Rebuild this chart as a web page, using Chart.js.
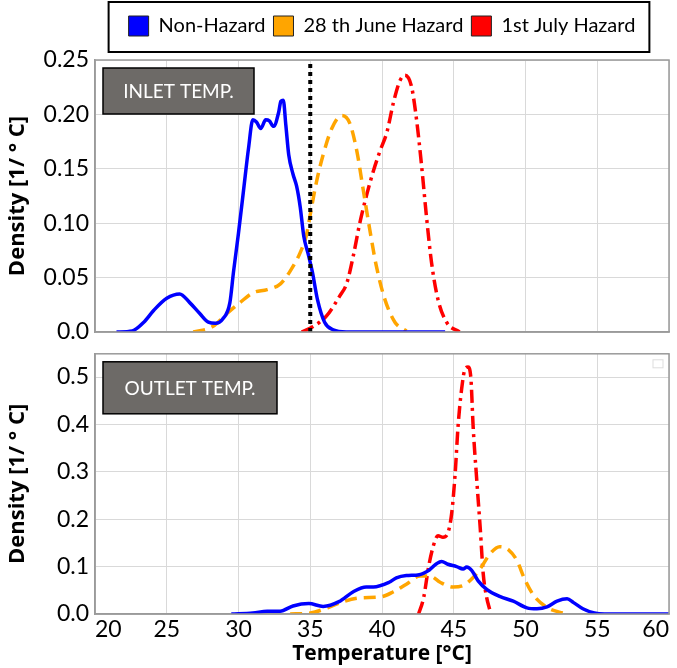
<!DOCTYPE html>
<html lang="en">
<head>
  <meta charset="UTF-8">
  <title>Inlet / Outlet Temperature Density</title>
  <script src="https://cdn.jsdelivr.net/npm/chart.js"></script>
  <style>
    body {
      margin: 0;
      background-color: #ffffff;
    }

    .wrap {
      position: relative;
      width: 677px;
      height: 668px;
    }

    .panel {
      position: absolute;
      left: 0;
      width: 677px;
    }

    #topPanel { top: 0; height: 352px; }
    #bottomPanel { top: 334px; height: 334px; }
  </style>
</head>
<body>

  <div class="wrap">
    <div class="panel" id="topPanel"><canvas id="inletChart"></canvas></div>
    <div class="panel" id="bottomPanel"><canvas id="outletChart"></canvas></div>
  </div>

  <script>
    const seriesNames = ["Non-Hazard", "28 th June Hazard", "1st July Hazard"];
    const seriesColors = ["#0000ff", "#ffa500", "#ff0000"];

    // inlet temperature densities
    const inletBlueT = [21.5, 22.6, 23.4, 24.1, 25.0, 25.9, 26.6, 27.3, 27.9, 28.4, 28.9, 29.4, 29.65, 30.0, 30.35, 30.7, 31.0, 31.25, 31.55, 31.9, 32.15, 32.45, 32.8, 32.95, 33.12, 33.3, 33.5, 33.8, 34.05, 34.3, 34.55, 34.85, 35.15, 35.5, 36.0, 36.6, 37.5, 44.4];
    const inletBlueD = [0, 0.001, 0.009, 0.020, 0.031, 0.035, 0.027, 0.017, 0.009, 0.008, 0.012, 0.027, 0.055, 0.091, 0.130, 0.169, 0.195, 0.193, 0.187, 0.195, 0.194, 0.189, 0.202, 0.212, 0.213, 0.190, 0.163, 0.145, 0.134, 0.115, 0.088, 0.072, 0.055, 0.030, 0.009, 0.002, 0, 0];

    const inletOrangeT = [26.85, 28.2, 29.2, 30.1, 31.0, 32.0, 32.9, 33.6, 34.3, 34.75, 35.0, 35.45, 35.9, 36.5, 37.2, 37.75, 38.25, 38.7, 39.15, 39.6, 40.2, 40.9, 41.7];
    const inletOrangeD = [0, 0.005, 0.017, 0.027, 0.036, 0.039, 0.044, 0.056, 0.073, 0.090, 0.108, 0.139, 0.163, 0.187, 0.199, 0.192, 0.166, 0.130, 0.094, 0.061, 0.030, 0.009, 0.001];

    const inletRedT = [34.4, 35.2, 36.15, 37.05, 37.55, 38.0, 38.45, 38.95, 39.4, 39.85, 40.35, 40.8, 41.25, 41.6, 42.05, 42.4, 42.75, 43.1, 43.45, 43.9, 44.5, 45.4];
    const inletRedD = [0, 0.005, 0.015, 0.033, 0.045, 0.070, 0.100, 0.127, 0.148, 0.166, 0.184, 0.211, 0.231, 0.236, 0.226, 0.196, 0.154, 0.106, 0.064, 0.030, 0.009, 0];

    // threshold marker on the inlet panel
    const thresholdT = [35, 35];
    const thresholdD = [0, 0.25];

    // outlet temperature densities
    const outletBlueT = [29.5, 31.0, 32.0, 32.9, 33.8, 34.9, 35.9, 37.0, 38.0, 38.9, 39.4, 40.5, 41.0, 41.7, 42.6, 43.3, 43.8, 44.15, 44.6, 45.2, 45.65, 45.9, 46.25, 46.7, 47.3, 48.2, 49.15, 50.1, 50.8, 51.5, 52.2, 52.9, 53.35, 54.0, 54.8, 55.5, 60];
    const outletBlueD = [0, 0.002, 0.006, 0.006, 0.017, 0.022, 0.016, 0.026, 0.047, 0.057, 0.057, 0.067, 0.076, 0.081, 0.083, 0.093, 0.106, 0.111, 0.105, 0.100, 0.095, 0.099, 0.092, 0.070, 0.052, 0.037, 0.027, 0.013, 0.011, 0.015, 0.027, 0.032, 0.024, 0.011, 0.002, 0, 0];

    const outletOrangeT = [33.6, 35.0, 36.2, 37.1, 38.5, 39.9, 40.8, 41.7, 42.65, 43.35, 44.05, 44.95, 45.65, 46.35, 46.95, 47.5, 48.2, 48.8, 49.4, 49.95, 50.55, 51.5, 52.7];
    const outletOrangeD = [0, 0.002, 0.013, 0.024, 0.034, 0.036, 0.047, 0.063, 0.080, 0.080, 0.067, 0.057, 0.060, 0.077, 0.100, 0.126, 0.142, 0.136, 0.113, 0.073, 0.040, 0.014, 0.001];

    const outletRedT = [42.55, 42.9, 43.25, 43.6, 43.9, 44.25, 44.6, 44.85, 45.1, 45.3, 45.55, 45.8, 46.0, 46.2, 46.35, 46.6, 46.85, 47.05, 47.3, 47.5];
    const outletRedD = [0, 0.034, 0.100, 0.146, 0.165, 0.162, 0.172, 0.211, 0.297, 0.396, 0.475, 0.518, 0.521, 0.495, 0.396, 0.284, 0.179, 0.086, 0.034, 0.010];

    const xTicks = [20, 25, 30, 35, 40, 45, 50, 55, 60];

    const FONT = 'Lato';
    const TITLE_FONT = 'Open Sans';
    const pts = (xs, ys) => xs.map((x, i) => ({ x: x, y: ys[i] }));

    const curve = (label, color, dash, data, order) => ({
      label: label,
      data: data,
      borderColor: color,
      backgroundColor: color,
      borderWidth: 3.5,
      borderDash: dash,
      pointRadius: 0,
      cubicInterpolationMode: 'monotone',
      fill: false,
      order: order
    });

    // frame around the plot area + the grey tag box
    const panelDecor = {
      id: 'panelDecor',
      afterDraw(chart, args, opts) {
        const ctx = chart.ctx;
        const a = chart.chartArea;
        ctx.save();
        ctx.strokeStyle = '#9a9a9a';
        ctx.lineWidth = 1.5;
        ctx.strokeRect(a.left, a.top, a.right - a.left, a.bottom - a.top);

        ctx.fillStyle = '#6d6a67';
        ctx.strokeStyle = '#000';
        ctx.lineWidth = 1.5;
        ctx.fillRect(a.left + 8, a.top + 8, opts.w, opts.h);
        ctx.strokeRect(a.left + 8, a.top + 8, opts.w, opts.h);
        ctx.fillStyle = '#fff';
        ctx.font = '19px ' + FONT;
        ctx.textAlign = 'center';
        ctx.textBaseline = 'middle';
        ctx.fillText(opts.text, a.left + 8 + opts.w / 2, a.top + 8 + opts.h / 2 + 1);

        if (opts.emptyLegend) {
          ctx.strokeStyle = '#dddddd';
          ctx.lineWidth = 1;
          ctx.strokeRect(a.right - 16, a.top + 6, 10, 8);
        }
        ctx.restore();
      }
    };

    // box around the legend row
    const legendFrame = {
      id: 'legendFrame',
      beforeInit(chart) {
        const fit = chart.legend.fit;
        chart.legend.fit = function () {
          fit.bind(chart.legend)();
          this.height = 52;
        };
      },
      afterDraw(chart) {
        const boxes = chart.legend.legendHitBoxes;
        if (!boxes || !boxes.length) return;
        const left = Math.min(...boxes.map(b => b.left)) - 20;
        const right = Math.max(...boxes.map(b => b.left + b.width)) + 14;
        const ctx = chart.ctx;
        ctx.save();
        ctx.strokeStyle = '#000';
        ctx.lineWidth = 2;
        ctx.strokeRect(left, 2, right - left, 50);
        ctx.restore();
      }
    };

    const yAxis = (max, step, fmt) => ({
      min: 0,
      max: max,
      afterFit: s => { s.width = 95; },
      grid: { color: '#d9d9d9', lineWidth: 1, drawTicks: false },
      border: { color: '#9a9a9a', width: 1.5 },
      ticks: {
        stepSize: step,
        includeBounds: false,
        padding: 6,
        color: '#000',
        font: { family: FONT, size: 23 },
        callback: fmt
      },
      title: {
        display: true,
        text: 'Density [1/ \u00b0 C]',
        color: '#000',
        padding: { top: 5, bottom: 0 },
        font: { family: TITLE_FONT, size: 22, weight: 'bold' }
      }
    });

    const xAxis = (showLabels, height) => ({
      type: 'linear',
      min: 20,
      max: 60,
      afterFit: s => {
        s.height = height;
        s.paddingLeft = 0;
        s.paddingRight = 0;
      },
      afterBuildTicks: s => { s.ticks = xTicks.map(v => ({ value: v })); },
      grid: { color: '#d9d9d9', lineWidth: 1, drawTicks: false },
      border: { color: '#9a9a9a', width: 1.5 },
      ticks: {
        display: showLabels,
        align: 'inner',
        padding: 2,
        color: '#000',
        font: { family: FONT, size: 23 },
        maxRotation: 0
      },
      title: {
        display: showLabels,
        text: 'Temperature [\u00b0C]',
        color: '#000',
        padding: { top: 0, bottom: 1 },
        font: { family: TITLE_FONT, size: 21, weight: 'bold' }
      }
    });

    new Chart(document.getElementById('inletChart'), {
      type: 'line',
      data: {
        datasets: [
          {
            label: '',
            data: pts(thresholdT, thresholdD),
            borderColor: '#000',
            borderWidth: 4,
            borderDash: [4, 4],
            pointRadius: 0,
            fill: false,
            order: 0
          },
          curve(seriesNames[0], seriesColors[0], [], pts(inletBlueT, inletBlueD), 1),
          curve(seriesNames[1], seriesColors[1], [12, 7], pts(inletOrangeT, inletOrangeD), 2),
          curve(seriesNames[2], seriesColors[2], [13, 5, 3, 5], pts(inletRedT, inletRedD), 3)
        ]
      },
      options: {
        responsive: true,
        maintainAspectRatio: false,
        animation: false,
        layout: { padding: { top: 8, right: 8, bottom: 0, left: 0 } },
        plugins: {
          tooltip: { enabled: false },
          legend: {
            position: 'top',
            fullSize: false,
            labels: {
              boxWidth: 20,
              boxHeight: 20,
              padding: 8,
              color: '#000',
              font: { family: FONT, size: 20 },
              filter: item => item.text !== '',
              generateLabels: chart => chart.data.datasets.map((ds, i) => ({
                text: ds.label,
                fillStyle: ds.borderColor,
                strokeStyle: '#222',
                lineWidth: 1,
                lineDash: [],
                hidden: false,
                datasetIndex: i
              }))
            }
          },
          panelDecor: { text: 'INLET TEMP.', w: 151, h: 46 }
        },
        scales: {
          x: xAxis(false, 20),
          y: yAxis(0.25, 0.05, v => v === 0 ? '0.0' : v.toFixed(2))
        }
      },
      plugins: [legendFrame, panelDecor]
    });

    new Chart(document.getElementById('outletChart'), {
      type: 'line',
      data: {
        datasets: [
          curve(seriesNames[0], seriesColors[0], [], pts(outletBlueT, outletBlueD), 1),
          curve(seriesNames[1], seriesColors[1], [12, 7], pts(outletOrangeT, outletOrangeD), 2),
          curve(seriesNames[2], seriesColors[2], [13, 5, 3, 5], pts(outletRedT, outletRedD), 3)
        ]
      },
      options: {
        responsive: true,
        maintainAspectRatio: false,
        animation: false,
        layout: { padding: { top: 2, right: 8, bottom: 0, left: 0 } },
        plugins: {
          tooltip: { enabled: false },
          legend: { display: false },
          panelDecor: { text: 'OUTLET TEMP.', w: 174, h: 52, emptyLegend: true }
        },
        scales: {
          x: xAxis(true, 54),
          y: yAxis(0.549, 0.1, v => v.toFixed(1))
        }
      },
      plugins: [panelDecor]
    });
  </script>

</body>
</html>
